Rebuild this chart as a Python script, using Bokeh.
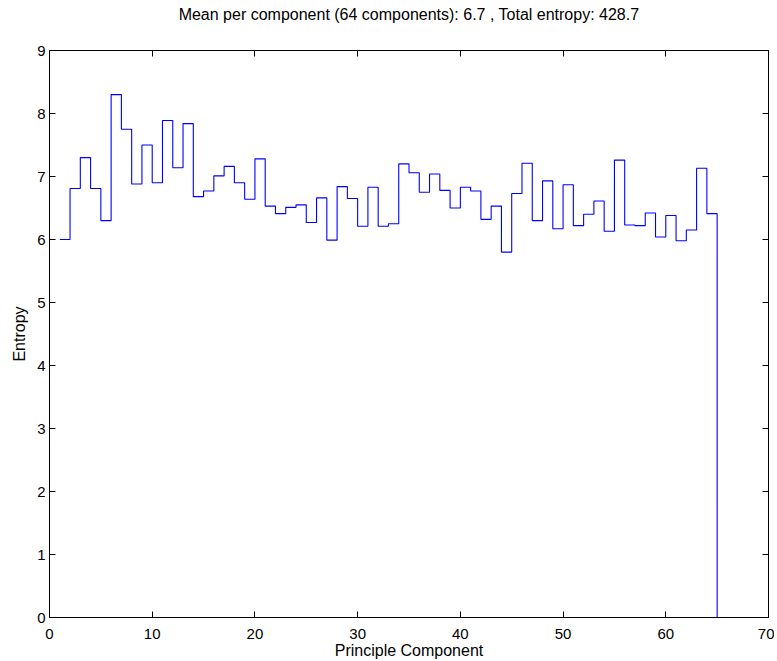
from bokeh.plotting import figure
from bokeh.models import LinearAxis, Range1d, FixedTicker
from bokeh.embed import file_html
from bokeh.resources import INLINE

# Stair edges (principal component index) and entropy per component
component = list(range(1, 66))
entropy = [6.00, 6.81, 7.30, 6.81, 6.30, 8.30, 7.75, 6.88, 7.50, 6.90,
           7.89, 7.14, 7.84, 6.68, 6.77, 7.01, 7.16, 6.90, 6.64, 7.28,
           6.53, 6.41, 6.51, 6.55, 6.27, 6.66, 5.99, 6.84, 6.65, 6.21,
           6.83, 6.21, 6.25, 7.20, 7.06, 6.75, 7.04, 6.78, 6.50, 6.83,
           6.77, 6.32, 6.53, 5.80, 6.73, 7.21, 6.30, 6.93, 6.17, 6.87,
           6.22, 6.40, 6.61, 6.13, 7.26, 6.23, 6.22, 6.42, 6.04, 6.38,
           5.98, 6.15, 7.13, 6.41]
final_value = [0.0]

x_ticks = [0, 10, 20, 30, 40, 50, 60, 70]
y_ticks = [0, 1, 2, 3, 4, 5, 6, 7, 8, 9]

title_text = "Mean per component (64 components): 6.7 , Total entropy: 428.7"

FONT = "Liberation Sans"

p = figure(frame_width=719, frame_height=567,
           x_range=Range1d(0, 70), y_range=Range1d(0, 9),
           output_backend="svg", toolbar_location=None,
           min_border_left=49, min_border_right=6,
           min_border_top=50, min_border_bottom=30,
           background_fill_color="white", border_fill_color="white")

p.xgrid.visible = False
p.ygrid.visible = False
p.outline_line_color = None

ys = entropy + final_value
p.step(component, ys, mode="after", line_color="#0000ff", line_width=1.1)

def style_axis(ax, ticks, show_labels):
    ax.ticker = FixedTicker(ticks=ticks)
    ax.major_tick_in = 6
    ax.major_tick_out = 0
    ax.minor_tick_line_color = None
    ax.axis_line_color = "black"
    ax.axis_line_width = 1
    ax.major_tick_line_color = "black"
    ax.major_tick_line_width = 1
    ax.major_label_text_font = FONT
    if show_labels:
        ax.major_label_text_font_size = "15px"
        ax.major_label_text_color = "black"
    else:
        ax.major_label_text_font_size = "1px"
        ax.major_label_text_color = None
        ax.major_label_standoff = 0

def style_label(ax, text, standoff):
    ax.axis_label = text
    ax.axis_label_text_font = FONT
    ax.axis_label_text_font_size = "16px"
    ax.axis_label_text_font_style = "normal"
    ax.axis_label_text_color = "black"
    ax.axis_label_standoff = standoff

xa = p.xaxis[0]
style_axis(xa, x_ticks, True)
xa.major_label_standoff = 11
style_label(xa, "Principle Component", 0)

ya = p.yaxis[0]
style_axis(ya, y_ticks, True)
ya.major_label_standoff = 4
style_label(ya, "Entropy", 6)

# top axis carries the chart title as its label
top = LinearAxis()
style_axis(top, x_ticks, False)
style_label(top, title_text, 28)
p.add_layout(top, "above")

right = LinearAxis()
style_axis(right, y_ticks, False)
p.add_layout(right, "right")

open("out.html", "w").write(file_html(p, INLINE))
